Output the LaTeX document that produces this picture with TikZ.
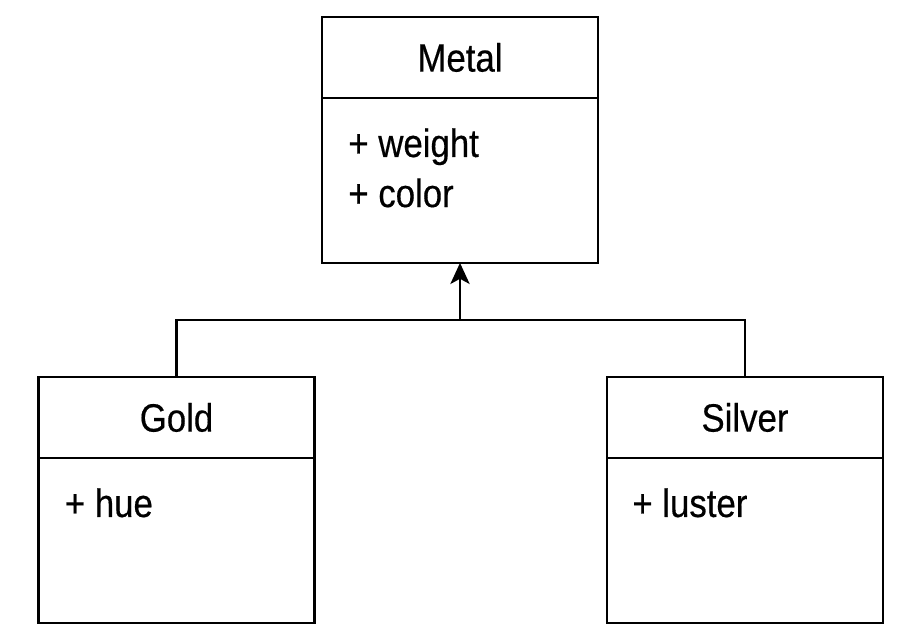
\documentclass[tikz,border=0pt]{standalone}
\usepackage{fontspec}
\setmainfont{Liberation Sans}[FakeStretch=0.88, FakeBold=0.4]
\usetikzlibrary{positioning,arrows.meta}
\begin{document}
\begin{tikzpicture}[x=0.02cm, y=0.02cm,
    classname/.style={draw, line width=1.2pt, inner sep=0pt, outer sep=0pt, minimum width=5.52cm, minimum height=1.62cm, font=\fontsize{22.5}{28.5}\selectfont},
    classbody/.style={draw, line width=1.2pt, inner sep=0pt, outer sep=0pt, minimum width=5.52cm, minimum height=3.3cm},
    attr/.style={inner sep=0pt, align=left, font=\fontsize{22.5}{28.5}\selectfont}]
      \useasboundingbox (0,0) rectangle (916,644);
      \node (metal) at (460,586.5) [classname] {Metal};
      \node (metalbody) [classbody, below=0pt of metal] {};
      \node (gold) at (176.5,226.5) [classname] {Gold};
      \node (goldbody) [classbody, below=0pt of gold] {};
      \node (silver) at (745,226.5) [classname] {Silver};
      \node (silverbody) [classbody, below=0pt of silver] {};
      \node (metalattr) [attr, below right=0.6cm and 0.52cm of metalbody.north west] {+ weight\\+ color};
      \node (goldattr) [attr, below right=0.6cm and 0.52cm of goldbody.north west] {+ hue};
      \node (silverattr) [attr, below right=0.6cm and 0.5cm of silverbody.north west] {+ luster};
      \coordinate (joint) at (460,324);
      \draw[line width=1.2pt] (gold.north) |- (joint) -| (silver.north);
      \draw[line width=1.2pt, -{Stealth[length=12pt, width=11pt, inset=3pt]}] (joint) -- (metalbody.south);
    \end{tikzpicture}
\end{document}
